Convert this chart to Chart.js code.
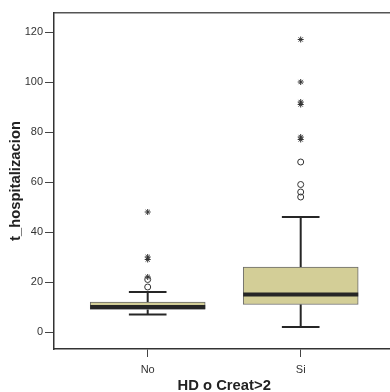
<!DOCTYPE html>
<html>
<head>
<meta charset="utf-8">
<script src="https://cdn.jsdelivr.net/npm/chart.js@4/dist/chart.umd.min.js"></script>
<style>
    html, body { margin: 0; padding: 0; background: #fff; overflow: hidden; }
    #wrap { width: 390px; height: 392px; overflow: hidden; }
</style>
</head>
<body>
<div id="wrap"><canvas id="boxChart" width="400" height="396"></canvas></div>
<script>
const categories = ['No', 'Si'];
const q1 = [9, 11];
const medians = [10, 15];
const q3 = [12, 26];
const whiskerLow = [7, 2];
const whiskerHigh = [16, 46];
const circleOutliers = [[18, 21], [54, 56, 59, 68]];
const starOutliers = [[22, 29, 30, 48], [77, 78, 91, 92, 100, 117]];
const yTicks = [0, 20, 40, 60, 80, 100, 120];

const boxHalf = 0.376;   // half box width, in category units
const capHalf = 0.123;   // half whisker cap width
const ink = '#262626';

const seg = (pts, width) => ({
    type: 'line',
    data: pts,
    borderColor: ink,
    borderWidth: width,
    borderCapStyle: 'butt',
    pointRadius: 0,
    fill: false,
    order: 1
});

const datasets = [];

categories.forEach((c, i) => {
    datasets.push(seg([{ x: i, y: q3[i] }, { x: i, y: whiskerHigh[i] }], 2));
    datasets.push(seg([{ x: i, y: q1[i] }, { x: i, y: whiskerLow[i] }], 2));
    datasets.push(seg([{ x: i - capHalf, y: whiskerHigh[i] }, { x: i + capHalf, y: whiskerHigh[i] }], 2));
    datasets.push(seg([{ x: i - capHalf, y: whiskerLow[i] }, { x: i + capHalf, y: whiskerLow[i] }], 2));
    const med = seg([{ x: i - boxHalf, y: medians[i] }, { x: i + boxHalf, y: medians[i] }], 4);
    med.order = 0;
    datasets.push(med);
});

datasets.push({
    type: 'scatter',
    data: circleOutliers.flatMap((vals, i) => vals.map(v => ({ x: i, y: v }))),
    pointStyle: 'circle',
    pointRadius: 3,
    backgroundColor: 'rgba(255,255,255,0)',
    borderColor: '#333',
    borderWidth: 1,
    order: 0
});

datasets.push({
    type: 'scatter',
    data: starOutliers.flatMap((vals, i) => vals.map(v => ({ x: i, y: v }))),
    pointStyle: 'star',
    pointRadius: 3,
    borderColor: '#333',
    borderWidth: 1,
    order: 0
});

datasets.push({
    type: 'bar',
    data: categories.map((c, i) => ({ x: i, y: [q1[i], q3[i]] })),
    backgroundColor: '#d3ce97',
    borderColor: '#6a6a6a',
    borderWidth: 1,
    borderSkipped: false,
    barThickness: 115,
    grouped: false,
    order: 10
});

const tickFont = { family: 'Liberation Sans, Arial, sans-serif', size: 11 };
const titleFont = { family: 'Liberation Sans, Arial, sans-serif', size: 14.8, weight: 'bold' };

new Chart(document.getElementById('boxChart'), {
    type: 'scatter',
    data: { datasets },
    options: {
        responsive: false,
        animation: false,
        layout: { padding: { top: 13, right: 5.6, bottom: 0, left: 0 } },
        plugins: {
            legend: { display: false },
            tooltip: { enabled: false }
        },
        scales: {
            x: {
                type: 'linear',
                position: 'bottom',
                offset: false,
                min: -0.6124,
                max: 1.6124,
                afterBuildTicks: s => { s.ticks = categories.map((c, i) => ({ value: i })); },
                afterFit: s => { s.height = 47; },
                ticks: {
                    color: '#333',
                    font: tickFont,
                    padding: 6,
                    callback: v => categories[v]
                },
                grid: {
                    offset: false,
                    drawOnChartArea: false,
                    drawTicks: true,
                    tickLength: 8,
                    color: '#444',
                    lineWidth: 1
                },
                border: { display: true, color: '#333', width: 1.5 },
                title: {
                    display: true,
                    text: 'HD o Creat>2',
                    color: '#222',
                    font: titleFont,
                    padding: { top: 0, bottom: 1 }
                }
            },
            xTop: {
                type: 'linear',
                position: 'top',
                offset: false,
                min: -0.6124,
                max: 1.6124,
                afterFit: s => { s.height = 0; },
                ticks: { display: false },
                grid: { display: false },
                border: { display: true, color: '#555', width: 1.5 }
            },
            y: {
                min: -6.8,
                max: 127.6,
                afterBuildTicks: s => { s.ticks = yTicks.map(v => ({ value: v })); },
                afterFit: s => { s.width = 54; },
                ticks: {
                    color: '#333',
                    font: tickFont,
                    padding: 2
                },
                grid: {
                    drawOnChartArea: false,
                    drawTicks: true,
                    tickLength: 9,
                    color: '#444',
                    lineWidth: 1
                },
                border: { display: true, color: '#333', width: 1.5 },
                title: {
                    display: true,
                    text: 't_hospitalizacion',
                    color: '#222',
                    font: titleFont,
                    padding: { top: 6.6, bottom: 0 }
                }
            }
        }
    }
});
</script>
</body>
</html>
